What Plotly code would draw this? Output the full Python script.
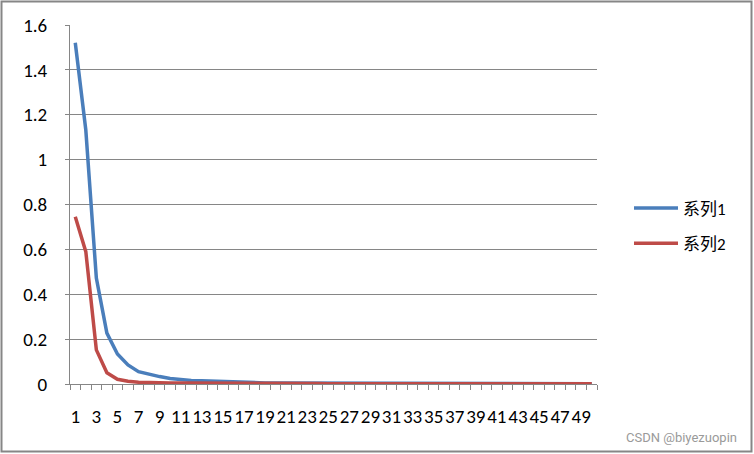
import plotly.graph_objects as go

categories = list(range(1, 51))
series1 = [1.521, 1.132, 0.472, 0.227, 0.134, 0.085, 0.055, 0.043, 0.033, 0.025,
           0.020, 0.016, 0.014, 0.012, 0.010, 0.008, 0.007, 0.006, 0.005, 0.004,
           0.004, 0.003, 0.003, 0.002, 0.002, 0.002, 0.002, 0.001, 0.001, 0.001,
           0.001, 0.001, 0.001, 0.001, 0.001, 0.001, 0.001, 0.001, 0.001, 0.001,
           0.001, 0.001, 0.001, 0.001, 0.001, 0.001, 0.001, 0.001, 0.001, 0.001]
series2 = [0.745, 0.590, 0.152, 0.050, 0.021, 0.012, 0.008, 0.006, 0.005, 0.005,
           0.005, 0.005, 0.005, 0.005, 0.005, 0.005, 0.005, 0.005, 0.005, 0.005,
           0.004, 0.004, 0.003, 0.002, 0.001, 0.001, 0.001, 0.001, 0.001, 0.001,
           0.001, 0.001, 0.001, 0.001, 0.001, 0.001, 0.001, 0.001, 0.001, 0.001,
           0.001, 0.001, 0.001, 0.001, 0.001, 0.001, 0.001, 0.001, 0.001, 0.001]
names = ["系列1", "系列2"]
colors = ["#4A7EBB", "#BE4B48"]
xtick_vals = list(range(1, 51, 2))
xtick_text = [str(v) for v in xtick_vals]
ytick_vals = [0, 0.2, 0.4, 0.6, 0.8, 1.0, 1.2, 1.4, 1.6]
ytick_text = ["0", "0.2", "0.4", "0.6", "0.8", "1", "1.2", "1.4", "1.6"]

W, H = 754, 454
L, R, T, B = 70, 157, 25, 70
pw, ph = W - L - R, H - T - B

def px_x(x):
    return (x - L) / pw

def px_y(y):
    return (H - B - y) / ph

FONT = "Carlito, Calibri, 'Liberation Sans', 'Noto Sans CJK SC', sans-serif"
GRID = "#868686"

fig = go.Figure()
for i, (name, vals) in enumerate(zip(names, [series1, series2])):
    fig.add_trace(go.Scatter(
        x=categories, y=vals, mode="lines", name=name,
        line=dict(color=colors[i], width=3.5),
        legendgroup=name,
    ))

fig.update_layout(
    width=W, height=H,
    margin=dict(l=L, r=R, t=T, b=B),
    paper_bgcolor="white", plot_bgcolor="white",
    font=dict(family=FONT, size=19, color="#000000"),
    showlegend=True,
    legend=dict(
        x=px_x(629), y=px_y(226), xanchor="left", yanchor="middle",
        font=dict(family=FONT, size=17, color="#000000"),
        tracegroupgap=10, itemwidth=44, bgcolor="rgba(0,0,0,0)",
    ),
    xaxis=dict(
        range=[0.5, 50.5], tickmode="array", tickvals=xtick_vals, ticktext=xtick_text,
        showgrid=False, zeroline=False, showline=True, linecolor=GRID, linewidth=1,
        ticks="outside", ticklen=0, ticklabelstandoff=15, tickangle=0,
        tickfont=dict(family=FONT, size=19),
        minor=dict(tickmode="linear", tick0=0.5, dtick=1, ticks="outside",
                   ticklen=5, tickcolor=GRID, showgrid=False),
        fixedrange=True,
    ),
    yaxis=dict(
        range=[0, 1.6], tickmode="array", tickvals=ytick_vals, ticktext=ytick_text,
        showgrid=True, gridcolor=GRID, gridwidth=1, zeroline=False,
        showline=True, linecolor=GRID, linewidth=1,
        ticks="outside", ticklen=4, tickcolor=GRID, ticklabelstandoff=14,
        tickfont=dict(family=FONT, size=19),
        fixedrange=True,
    ),
    shapes=[dict(type="rect", xref="paper", yref="paper",
                 x0=px_x(1.5), x1=px_x(751.5), y0=px_y(451.5), y1=px_y(1.5),
                 line=dict(color=GRID, width=2), fillcolor="rgba(0,0,0,0)", layer="above")],
    annotations=[dict(text="CSDN @biyezuopin", xref="paper", yref="paper",
                      x=px_x(739), y=px_y(437), xanchor="right", yanchor="middle",
                      showarrow=False,
                      font=dict(family="Roboto, 'Liberation Sans', sans-serif", size=13, color="#9a9a9a"))],
)

fig.write_html("out.html", config={"displayModeBar": False},
               post_script="document.body.style.margin='0';document.body.style.padding='0';")
